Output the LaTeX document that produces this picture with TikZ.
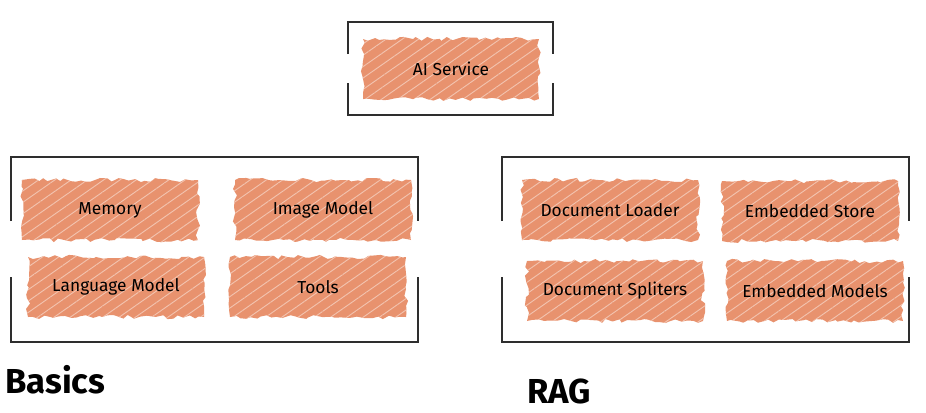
\documentclass[tikz,border=0pt]{standalone}
\usepackage{fontspec}
\setmainfont{Fira Sans}
\newfontfamily\titlefont{Fira Sans}
\usetikzlibrary{decorations.pathmorphing,patterns.meta}

\definecolor{hatch}{HTML}{E8926E}
\definecolor{framegray}{HTML}{2E2E2E}

\tikzset{
  hatchbox/.style={preaction={fill=hatch},
    pattern={Lines[angle=35,distance=7pt,line width=0.7pt]},
    pattern color=white!45!hatch,
    decorate, decoration={random steps,segment length=4pt,amplitude=1.6pt},
    minimum width=132pt, minimum height=45pt, inner sep=0pt,
    font=\fontsize{13}{15}\selectfont},
  frameline/.style={draw=framegray, line width=2.1pt},
  grouptitle/.style={anchor=west, inner sep=0pt, font=\titlefont\bfseries\fontsize{26}{30}\selectfont}
}

\begin{document}
\pgfmathsetseed{11}
\begin{tikzpicture}[x=0.75pt,y=0.75pt,yscale=-1,xscale=1]
\useasboundingbox (0,0) rectangle (926,412);

%Shape: Bracket frame, AI Service
\draw [frameline] (348,54) -- (348,22) -- (553,22) -- (553,54) ;
\draw [frameline] (348,83) -- (348,115) -- (553,115) -- (553,83) ;
%Shape: Bracket frame, Basics
\draw [frameline] (11,221) -- (11,157) -- (418,157) -- (418,221) ;
\draw [frameline] (11,277) -- (11,342) -- (418,342) -- (418,277) ;
%Shape: Bracket frame, RAG
\draw [frameline] (502,221) -- (502,157) -- (909,157) -- (909,221) ;
\draw [frameline] (502,277) -- (502,342) -- (909,342) -- (909,277) ;

% Hatched nodes
\node (aiservice) [hatchbox] at (451,69) {AI Service};

\node (memory) [hatchbox] at (110,210) {Memory};
\node (imagemodel) [hatchbox] at (323,210) {Image Model};
\node (languagemodel) [hatchbox] at (116,287) {Language Model};
\node (tools) [hatchbox] at (318,287) {Tools};

\node (docloader) [hatchbox] at (610,210) {Document Loader};
\node (embstore) [hatchbox] at (810,211) {Embedded Store};
\node (docspliters) [hatchbox] at (615,291) {Document Spliters};
\node (embmodels) [hatchbox] at (815,291) {Embedded Models};

% Text Node
\node (basics) [grouptitle] at (5,380) {Basics};
% Text Node
\node (rag) [grouptitle] at (527,391) {RAG};

\end{tikzpicture}
\end{document}
